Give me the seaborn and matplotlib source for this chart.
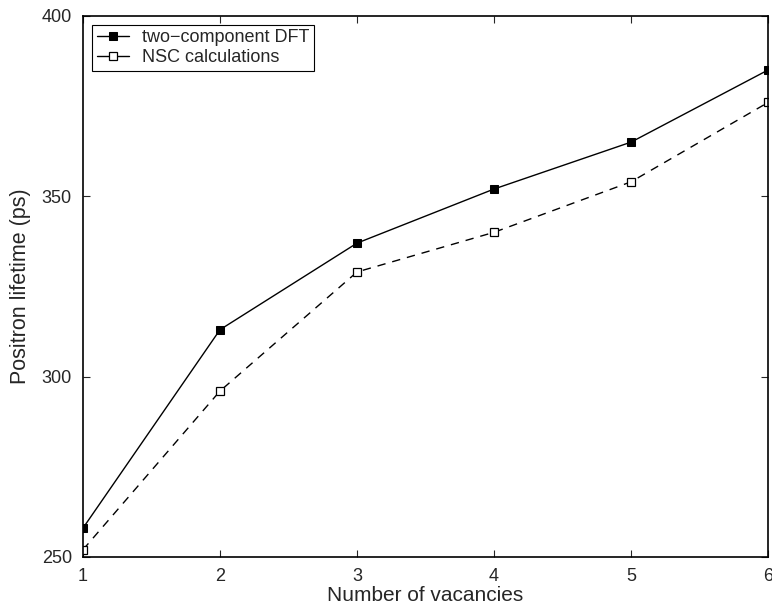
import pandas as pd
import seaborn as sns
import matplotlib.pyplot as plt

# Values
vacancies = [1, 2, 3, 4, 5, 6]
dft_lifetime = [258, 313, 337, 352, 365, 385]
nsc_lifetime = [252, 296, 329, 340, 354, 376]

sns.set_style("ticks")
plt.rcParams['font.family'] = ['Liberation Sans', 'DejaVu Sans']
plt.rcParams['xtick.direction'] = 'in'
plt.rcParams['ytick.direction'] = 'in'

df = pd.DataFrame({"x": vacancies, "dft": dft_lifetime, "nsc": nsc_lifetime})

fig = plt.figure(figsize=(7.72, 6.10), dpi=100)
ax = fig.add_axes([0.1075, 0.087, 0.8875, 0.887])

sns.lineplot(data=df, x="x", y="dft", ax=ax, color="black", lw=1.0,
             marker="s", markersize=6, markerfacecolor="black",
             markeredgecolor="black", label="two\u2212component DFT")
sns.lineplot(data=df, x="x", y="nsc", ax=ax, color="black", lw=1.0,
             linestyle=(0, (6, 5)), marker="s", markersize=5.5,
             markerfacecolor="white", markeredgecolor="black",
             markeredgewidth=0.9, label="NSC calculations")

ax.set_xlim(1, 6)
ax.set_ylim(250, 400)
ax.set_xticks(vacancies)
ax.set_yticks([250, 300, 350, 400])
ax.tick_params(top=True, right=True, labelsize=13, length=5, width=0.8, pad=8)
for s in ax.spines.values():
    s.set_linewidth(1.2)
    s.set_color("black")
    s.set_visible(True)
ax.set_xlabel("Number of vacancies", fontsize=15, labelpad=1)
ax.set_ylabel("Positron lifetime (ps)", fontsize=15.5, labelpad=8)

leg = ax.legend(loc="upper left", fontsize=13, frameon=True, fancybox=False,
                edgecolor="black", framealpha=1, borderaxespad=0.5,
                handlelength=1.8, handletextpad=0.7, borderpad=0.25,
                labelspacing=0.15)
leg.get_frame().set_linewidth(0.8)
# legend sample for the dashed series drawn as short solid stubs, as in the original
leg.get_lines()[1].set_linestyle("-")
for t in ax.get_xticklabels() + ax.get_yticklabels():
    t.set_clip_on(False)

fig.savefig("out.png", dpi=100)
